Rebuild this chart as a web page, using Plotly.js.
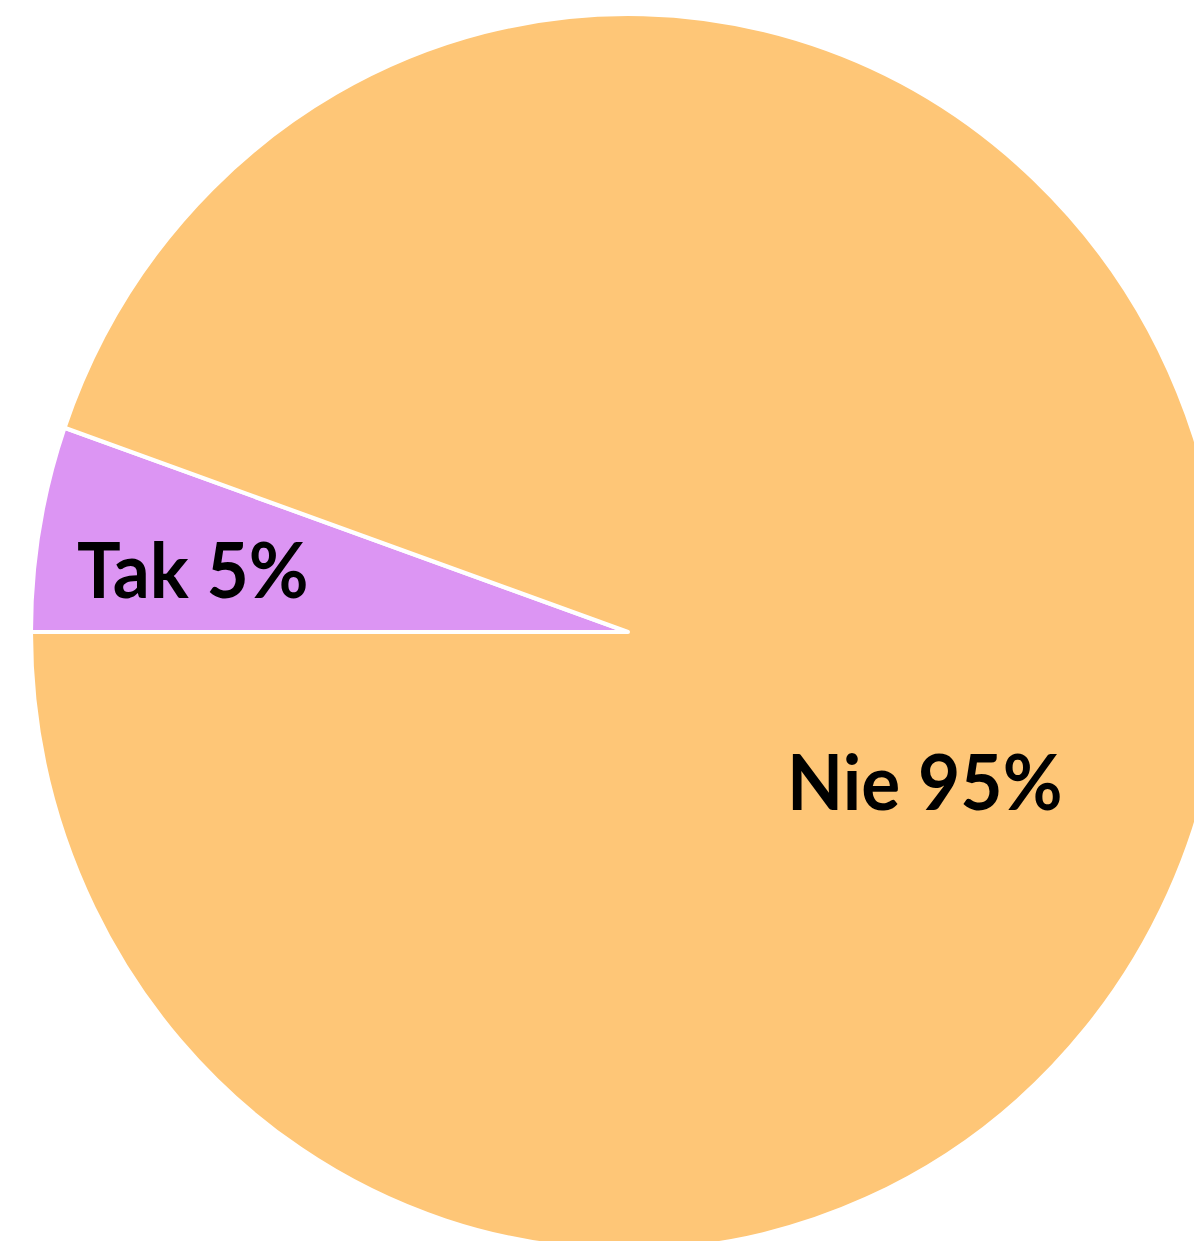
<!DOCTYPE html>
<html>
<head>
<meta charset="utf-8">
<script src="https://cdn.plot.ly/plotly-3.0.1.min.js"></script>
<style>
  html, body { margin: 0; padding: 0; width: 1194px; height: 1241px; overflow: hidden; background: #ffffff; }
  #chart { position: absolute; left: 31px; top: 35px; width: 1194px; height: 1194px;
           transform: scaleY(1.0353); transform-origin: 597px 597px; }
</style>
</head>
<body>
<div id="chart"></div>
<script>
const labels = ["Tak", "Nie"];
const values = [5.36, 94.64];
const colors = ["#DC95F3", "#FEC677"];

// label placement (style): radial fraction of radius and angle nudge in degrees
const labelRadius = [0.736, 0.553];
const labelNudge = [-1.7, 16.2];

const ROTATION = 270; // degrees clockwise from 12 o'clock where first slice starts
const total = values.reduce((a, b) => a + b, 0);
const annotations = [];
let cum = 0;
values.forEach((v, i) => {
  const frac = v / total;
  const midDeg = ROTATION + (cum + frac / 2) * 360 + labelNudge[i];
  cum += frac;
  const rad = midDeg * Math.PI / 180;
  const r = labelRadius[i] * 0.5; // in paper units (radius = 0.5 of square paper)
  annotations.push({
    xref: "paper", yref: "paper",
    x: 0.5 + r * Math.sin(rad),
    y: 0.5 + r * Math.cos(rad),
    xanchor: "center", yanchor: "middle",
    text: labels[i] + " " + Math.round(frac * 100) + "%",
    showarrow: false,
    font: { family: "Lato", size: 73, color: "#000000", weight: "bold" }
  });
});

Plotly.newPlot("chart", [{
  type: "pie",
  labels: labels,
  values: values,
  sort: false,
  direction: "clockwise",
  rotation: ROTATION,
  marker: { colors: colors, line: { color: "#ffffff", width: 4 } },
  textinfo: "none",
  hoverinfo: "none"
}], {
  width: 1194,
  height: 1194,
  margin: { l: 0, r: 0, t: 0, b: 0, pad: 0 },
  showlegend: false,
  annotations: annotations,
  paper_bgcolor: "rgba(0,0,0,0)",
  plot_bgcolor: "rgba(0,0,0,0)"
}, { displayModeBar: false, staticPlot: true });
</script>
</body>
</html>
